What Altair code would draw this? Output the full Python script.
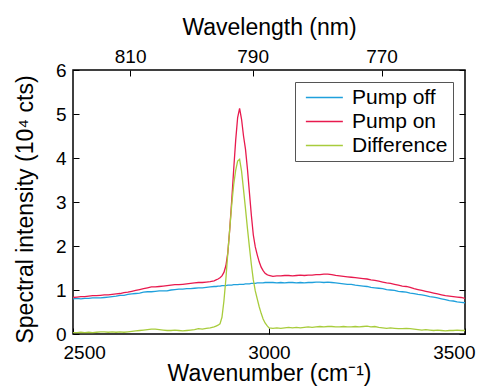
import altair as alt
import pandas as pd

# sampling grid (cm^-1)
wn_left = list(range(2500, 2861, 10))
wn_mid = list(range(2865, 2996, 5))
wn_right = list(range(3000, 3501, 10))
wavenumber = wn_left + wn_mid + wn_right

pump_off = [
    0.80, 0.81, 0.80, 0.81, 0.81, 0.82, 0.82, 0.82, 0.83, 0.84,
    0.85, 0.86, 0.88, 0.88, 0.90, 0.91, 0.92, 0.93, 0.95, 0.96,
    0.96, 0.97, 0.98, 0.98, 0.98, 1.00, 1.01, 1.02, 1.02, 1.03,
    1.03, 1.04, 1.05, 1.05, 1.06, 1.07, 1.08,
    1.08, 1.09, 1.09, 1.10, 1.10, 1.10, 1.11, 1.11, 1.11, 1.12,
    1.12, 1.12, 1.13, 1.13, 1.13, 1.14, 1.14, 1.14, 1.15, 1.15,
    1.15, 1.16, 1.16, 1.16, 1.16, 1.17, 1.17,
    1.17, 1.17, 1.16, 1.17, 1.16, 1.17, 1.17, 1.16, 1.17, 1.16,
    1.17, 1.17, 1.18, 1.18, 1.17, 1.18, 1.17, 1.16, 1.15, 1.14,
    1.13, 1.13, 1.11, 1.10, 1.09, 1.08, 1.06, 1.05, 1.04, 1.03,
    1.01, 1.00, 0.99, 0.97, 0.96, 0.95, 0.93, 0.92, 0.90, 0.89,
    0.87, 0.85, 0.84, 0.82, 0.80, 0.78, 0.76, 0.75, 0.73, 0.72,
    0.71,
]

pump_on = [
    0.83, 0.84, 0.85, 0.85, 0.86, 0.87, 0.87, 0.88, 0.89, 0.89,
    0.90, 0.91, 0.92, 0.94, 0.95, 0.97, 0.99, 1.01, 1.03, 1.05,
    1.07, 1.07, 1.08, 1.09, 1.10, 1.11, 1.12, 1.12, 1.13, 1.14,
    1.15, 1.16, 1.17, 1.17, 1.18, 1.19, 1.21,
    1.23, 1.25, 1.28, 1.32, 1.40, 1.55, 1.85, 2.40, 3.05, 3.75,
    4.40, 4.92, 5.13, 4.88, 4.50, 4.20, 3.75, 3.22, 2.70, 2.25,
    1.98, 1.80, 1.64, 1.52, 1.44, 1.38, 1.35,
    1.33, 1.31, 1.32, 1.32, 1.33, 1.33, 1.32, 1.33, 1.34, 1.33,
    1.34, 1.34, 1.35, 1.35, 1.36, 1.36, 1.35, 1.33, 1.32, 1.31,
    1.30, 1.29, 1.28, 1.27, 1.26, 1.25, 1.23, 1.22, 1.20, 1.18,
    1.16, 1.15, 1.13, 1.11, 1.09, 1.08, 1.06, 1.03, 1.01, 0.99,
    0.97, 0.95, 0.93, 0.91, 0.89, 0.87, 0.86, 0.85, 0.84, 0.83,
    0.81,
]

difference = [
    0.03, 0.03, 0.04, 0.03, 0.04, 0.03, 0.04, 0.05, 0.05, 0.04,
    0.05, 0.04, 0.05, 0.04, 0.05, 0.06, 0.07, 0.08, 0.09, 0.10,
    0.11, 0.11, 0.10, 0.09, 0.08, 0.08, 0.09, 0.08, 0.07, 0.08,
    0.09, 0.10, 0.12, 0.11, 0.13, 0.14, 0.16,
    0.18, 0.20, 0.23, 0.38, 0.75, 1.25, 1.85, 2.40, 2.95, 3.40,
    3.72, 3.93, 3.97, 3.70, 3.28, 2.85, 2.40, 1.98, 1.58, 1.23,
    0.98, 0.80, 0.62, 0.47, 0.34, 0.25, 0.19,
    0.14, 0.13, 0.14, 0.13, 0.14, 0.15, 0.14, 0.15, 0.14, 0.15,
    0.16, 0.15, 0.16, 0.17, 0.16, 0.17, 0.17, 0.16, 0.16, 0.17,
    0.16, 0.16, 0.17, 0.16, 0.17, 0.18, 0.16, 0.17, 0.15, 0.14,
    0.13, 0.14, 0.13, 0.12, 0.12, 0.13, 0.12, 0.11, 0.10, 0.09,
    0.10, 0.09, 0.08, 0.09, 0.08, 0.07, 0.08, 0.08, 0.09, 0.08,
    0.08,
]

series_names = ["Pump off", "Pump on", "Difference"]
series_colors = ["#1fa0dc", "#e81a4e", "#a8cc3c"]

x_ticks = [2500, 3000, 3500]
y_ticks = [0, 1, 2, 3, 4, 5, 6]
wavelength_ticks_nm = [810, 790, 770]
pump_wavenumber = 9700.0  # cm^-1, reference for the wavelength axis
top_tick_values = [1e7 / nm - pump_wavenumber for nm in wavelength_ticks_nm]

rows = []
for name, vals in zip(series_names, [pump_off, pump_on, difference]):
    for w, v in zip(wavenumber, vals):
        rows.append({"wn": w, "val": v, "series": name})
df = pd.DataFrame(rows)

xscale = alt.Scale(domain=[2500, 3500], nice=False, zero=False)
yscale = alt.Scale(domain=[0, 6], nice=False, zero=False)

FS_TICK = 19
FS_TITLE = 23

lines = alt.Chart(df).mark_line(strokeWidth=1.3, clip=True).encode(
    x=alt.X("wn:Q", scale=xscale, axis=alt.Axis(
        orient="bottom", values=x_ticks, offset=-6, tickSize=6, domain=False,
        format="d", labelPadding=24, labelBaseline="alphabetic",
        labelFlush=True, labelFlushOffset=10,
        title="Wavenumber (cm⁻¹)", titleBaseline="alphabetic", titleY=52,
    )),
    y=alt.Y("val:Q", scale=yscale, axis=alt.Axis(
        orient="left", values=y_ticks, offset=-6, tickSize=6, domain=False,
        labelPadding=7, labelFlush=False,
        title="Spectral intensity (10⁴ cts)", titleBaseline="alphabetic",
        titleX=-47, titleY=139, titleAngle=-90, titleAlign="center",
    )),
    color=alt.Color("series:N", scale=alt.Scale(domain=series_names, range=series_colors),
                    legend=alt.Legend(title=None, orient="none", legendX=222, legendY=12,
                                      symbolType="M-0.5,0H3.5", symbolSize=342,
                                      symbolStrokeWidth=1.3, labelFontSize=21,
                                      labelOffset=31, rowPadding=2, padding=5,
                                      strokeColor="#555555", fillColor="white")),
    detail="series:N",
)

ghost = alt.Chart(df).mark_line(opacity=0).encode(
    x=alt.X("wn:Q", scale=xscale, axis=alt.Axis(
        orient="top", values=top_tick_values, offset=-6, tickSize=6, domain=False,
        labelPadding=8, labelBaseline="alphabetic", labelFlush=False,
        labelExpr=f"format(1e7/(datum.value+{pump_wavenumber}), 'd')",
        title="Wavelength (nm)", titleBaseline="alphabetic", titleY=-42,
    )),
    y=alt.Y("val:Q", scale=yscale, axis=alt.Axis(
        orient="right", values=y_ticks, offset=-6, tickSize=6, domain=False,
        labels=False, title=None,
    )),
)

chart = alt.layer(lines, ghost).resolve_axis(x="independent", y="independent").properties(
    width=392, height=264,
    autosize=alt.AutoSizeParams(type="none"),
    padding={"left": 73, "top": 70, "right": 16, "bottom": 53},
).configure(font="Liberation Sans").configure_view(
    stroke="black", strokeWidth=1.5
).configure_axis(
    grid=False, tickColor="black", tickWidth=1, labelColor="black", titleColor="black",
    labelFontSize=FS_TICK, titleFontSize=FS_TITLE, labelFont="Liberation Sans",
    titleFont="Liberation Sans", titleFontWeight="normal",
).configure_legend(labelFont="Liberation Sans", labelColor="black")

chart.save("out.html", embed_options={"renderer": "svg", "actions": False})
